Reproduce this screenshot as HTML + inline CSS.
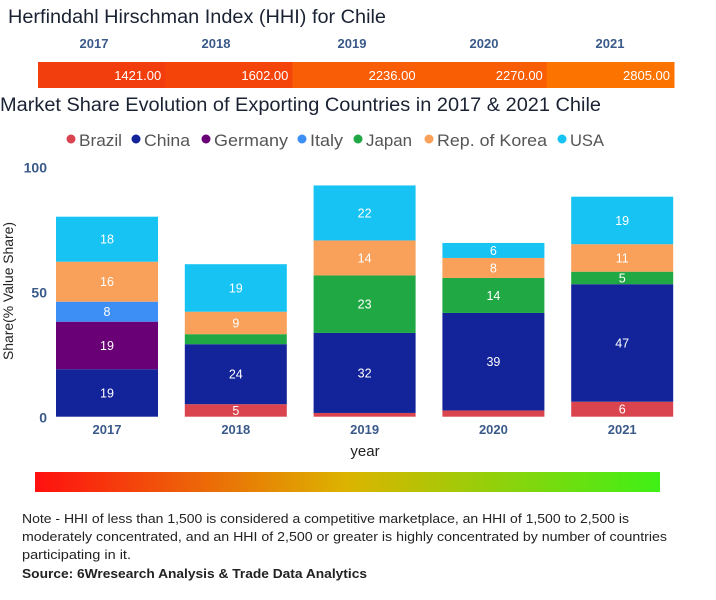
<!DOCTYPE html>
<html><head><meta charset="utf-8"><style>
html,body{margin:0;padding:0;background:#fff;}
svg{display:block;font-family:"Liberation Sans",sans-serif;}
</style></head><body>
<svg id="chart" width="716" height="600" viewBox="0 0 716 600">
<text x="8" y="23" font-size="19" fill="#1a2233" textLength="378" lengthAdjust="spacingAndGlyphs">Herfindahl Hirschman Index (HHI) for Chile</text>
<g id="hhi"></g>
<text x="0" y="111" font-size="19" fill="#1a2233" textLength="601" lengthAdjust="spacingAndGlyphs">Market Share Evolution of Exporting Countries in 2017 &amp; 2021 Chile</text>
<g id="legend"></g>
<g id="axes"></g>
<g id="bars"></g>
<text x="365" y="456" font-size="15" fill="#222" text-anchor="middle">year</text>
<text transform="translate(13,291) rotate(-90)" font-size="14" fill="#222" text-anchor="middle" textLength="138" lengthAdjust="spacingAndGlyphs">Share(% Value Share)</text>
<defs><linearGradient id="grad" x1="0" x2="1"><stop offset="0" stop-color="#ff1010"/><stop offset="0.5" stop-color="#dcb400"/><stop offset="1" stop-color="#3ff016"/></linearGradient></defs>
<rect x="35" y="472" width="625" height="20" fill="url(#grad)"/>
<g font-size="13" fill="#222">
<text x="22" y="523" textLength="607" lengthAdjust="spacingAndGlyphs">Note - HHI of less than 1,500 is considered a competitive marketplace, an HHI of 1,500 to 2,500 is</text>
<text x="22" y="541" textLength="645" lengthAdjust="spacingAndGlyphs">moderately concentrated, and an HHI of 2,500 or greater is highly concentrated by number of countries</text>
<text x="22" y="559" textLength="109" lengthAdjust="spacingAndGlyphs">participating in it.</text>
<text x="22" y="578" font-weight="bold" textLength="345" lengthAdjust="spacingAndGlyphs">Source: 6Wresearch Analysis &amp; Trade Data Analytics</text>
</g>
</svg>
<script>
const years = ["2017","2018","2019","2020","2021"];
const hhiValues = [1421, 1602, 2236, 2270, 2805];
const seriesNames = ["Brazil","China","Germany","Italy","Japan","Rep. of Korea","USA"];
const brazil = [0, 5, 1.5, 2.5, 6];
const china = [19, 24, 32, 39, 47];
const germany = [19, 0, 0, 0, 0];
const italy = [8, 0, 0, 0, 0];
const japan = [0, 4, 23, 14, 5];
const korea = [16, 9, 14, 8, 11];
const usa = [18, 19, 22, 6, 19];
const yTicks = [0, 50, 100];

const NS="http://www.w3.org/2000/svg";
const colors=["#d9444f","#13239a","#6a0075","#3d8ff5","#1fa843","#f9a05a","#16c3f2"];
const series=[brazil,china,germany,italy,japan,korea,usa];
function mk(tag,attrs,parent,text){const e=document.createElementNS(NS,tag);for(const k in attrs)e.setAttribute(k,attrs[k]);if(text!==undefined)e.textContent=text;parent.appendChild(e);return e;}
const y0=416.7, pxPerUnit=2.5;
function yScale(v){return y0-v*pxPerUnit;}
const bandStart=56, bandStep=128.8, barW=102;
function xScale(i){return bandStart+i*bandStep;}

// HHI strip
const hhiG=document.getElementById('hhi');
const hx0=38, hx1=674, hw=(hx1-hx0)/years.length;
const hhiLabelX=[94,216,352,484,610];
function hhiColor(v){const t=Math.min(1,Math.max(0,(v-1400)/1400));const g=Math.round(60+t*55);return `rgb(${Math.round(242+t*11)},${g},${Math.round(12-t*12)})`;}
years.forEach((y,i)=>{
  const t=mk('text',{x:hhiLabelX[i],y:48,'font-size':13,'font-weight':'bold',fill:'#3a5a8a','text-anchor':'middle'},hhiG,y);
  
  
  const r=mk('rect',{x:hx0+i*hw,y:62,width:hw+0.5,height:26,fill:hhiColor(hhiValues[i])},hhiG);
  
  
  const v=mk('text',{x:hx0+(i+1)*hw-4,y:80,'font-size':13,fill:'#fff','text-anchor':'end'},hhiG,hhiValues[i].toFixed(2));
  
  
});

// legend
const lg=document.getElementById('legend');
const legX=[71,136,206,302,358,429,562];
const legW=[43,46,74,33,46,110,34];
seriesNames.forEach((n,i)=>{
  const g=mk('g',{},lg);
  
  
  mk('circle',{cx:legX[i],cy:139,r:4.5,fill:colors[i]},g);
  mk('text',{x:legX[i]+8,y:146,'font-size':17,fill:'#555',textLength:legW[i],lengthAdjust:'spacingAndGlyphs'},g,n);
});

// axes
const ax=document.getElementById('axes');
yTicks.forEach(v=>{
  const t=mk('text',{x:47,y:yScale(v)+6,'font-size':14,'font-weight':'bold',fill:'#3a5a8a','text-anchor':'end'},ax,String(v));
  
  
});
years.forEach((y,i)=>{
  const t=mk('text',{x:xScale(i)+barW/2,y:434,'font-size':13,'font-weight':'bold',fill:'#3a5a8a','text-anchor':'middle'},ax,y);
  
  
});

// bars
const bg=document.getElementById('bars');
years.forEach((y,i)=>{
  let cum=0;
  series.forEach((s,k)=>{
    const v=s[i]; if(!v) return;
    const top=yScale(cum+v), h=v*pxPerUnit;
    const r=mk('rect',{x:xScale(i),y:top,width:barW,height:h,fill:colors[k]},bg);
    
    
    if(v>=5){
      const t=mk('text',{x:xScale(i)+barW/2,y:top+h/2+4.5,'font-size':12.5,fill:'#fff','text-anchor':'middle'},bg,String(Math.round(v)));
      
      
    }
    cum+=v;
  });
});
</script>
</body></html>
